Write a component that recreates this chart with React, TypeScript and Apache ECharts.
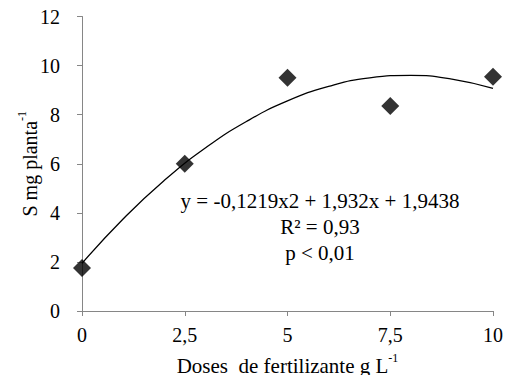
import React, { useEffect, useRef } from "react";
import * as echarts from "echarts";

const doses = [0, 2.5, 5, 7.5, 10];
const sValues = [1.75, 6.0, 9.5, 8.35, 9.55];
const trendX = [0, 1, 2, 3, 4, 5, 6, 7, 8, 9, 10];
const trendY = [1.94, 3.75, 5.32, 6.64, 7.72, 8.56, 9.15, 9.5, 9.6, 9.45, 9.07];
const equationLines = ["y = -0,1219x2 + 1,932x + 1,9438", "R² = 0,93", "p < 0,01"];

const FONT = "Times New Roman, Liberation Serif, DejaVu Serif, serif";

const richX = {
  a: { fontFamily: FONT, fontSize: 21, color: "#000", lineHeight: 24, verticalAlign: "bottom" },
  sup: { fontFamily: FONT, fontSize: 12, color: "#000", lineHeight: 24, verticalAlign: "top" },
};
const richY = {
  a: { fontFamily: FONT, fontSize: 20, color: "#000", lineHeight: 24, verticalAlign: "bottom" },
  sup: { fontFamily: FONT, fontSize: 12, color: "#000", lineHeight: 24, verticalAlign: "top" },
};

export default function App() {
  const ref = useRef<HTMLDivElement>(null);
  useEffect(() => {
    if (!ref.current) return;
    const chart = echarts.init(ref.current, undefined, { renderer: "svg" });
    const axisColor = "#868686";
    chart.setOption({
      animation: false,
      backgroundColor: "#ffffff",
      textStyle: { fontFamily: FONT },
      grid: { left: 82, right: 19, top: 16.5, bottom: 72, containLabel: false, outerBoundsMode: "none" },
      xAxis: {
        type: "value",
        min: 0,
        max: 10,
        interval: 2.5,
        name: "{a|Doses  de fertilizante g L}{sup|-1}",
        nameLocation: "middle",
        nameGap: 41,
        nameMoveOverlap: false,
        nameTextStyle: { fontFamily: FONT, fontSize: 21, color: "#000", rich: richX },
        axisLine: { show: true, lineStyle: { color: axisColor, width: 1 } },
        axisTick: { show: true, inside: false, length: 5, lineStyle: { color: axisColor } },
        splitLine: { show: false },
        axisLabel: {
          fontFamily: FONT,
          fontSize: 20,
          color: "#000",
          margin: 14,
          formatter: (v: number) => String(v).replace(".", ","),
        },
      },
      yAxis: {
        type: "value",
        min: 0,
        max: 12,
        interval: 2,
        name: "{a|S mg planta}{sup|-1}",
        nameLocation: "middle",
        nameRotate: 90,
        nameGap: 42,
        nameMoveOverlap: false,
        nameTextStyle: { fontFamily: FONT, fontSize: 20, color: "#000", rich: richY },
        axisLine: { show: true, lineStyle: { color: axisColor, width: 1 } },
        axisTick: { show: true, inside: false, length: 5, lineStyle: { color: axisColor } },
        splitLine: { show: false },
        axisLabel: { fontFamily: FONT, fontSize: 20, color: "#000", margin: 22 },
      },
      series: [
        {
          type: "line",
          data: trendX.map((x, i) => [x, trendY[i]]),
          smooth: true,
          showSymbol: false,
          symbol: "none",
          lineStyle: { color: "#000", width: 1.3 },
          z: 1,
        },
        {
          type: "scatter",
          data: doses.map((x, i) => [x, sValues[i]]),
          symbol: "diamond",
          symbolSize: 18,
          itemStyle: { color: "#000" },
          z: 2,
        },
      ],
      graphic: [
        {
          type: "text",
          x: 320,
          y: 227,
          style: {
            text: equationLines.join("\n"),
            fontFamily: FONT,
            fontSize: 21,
            lineHeight: 26,
            fill: "#000",
            align: "center",
            verticalAlign: "middle",
          },
        },
      ],
    });
    return () => chart.dispose();
  }, []);
  return <div ref={ref} style={{ width: 512, height: 383, margin: -8 }} />;
}
